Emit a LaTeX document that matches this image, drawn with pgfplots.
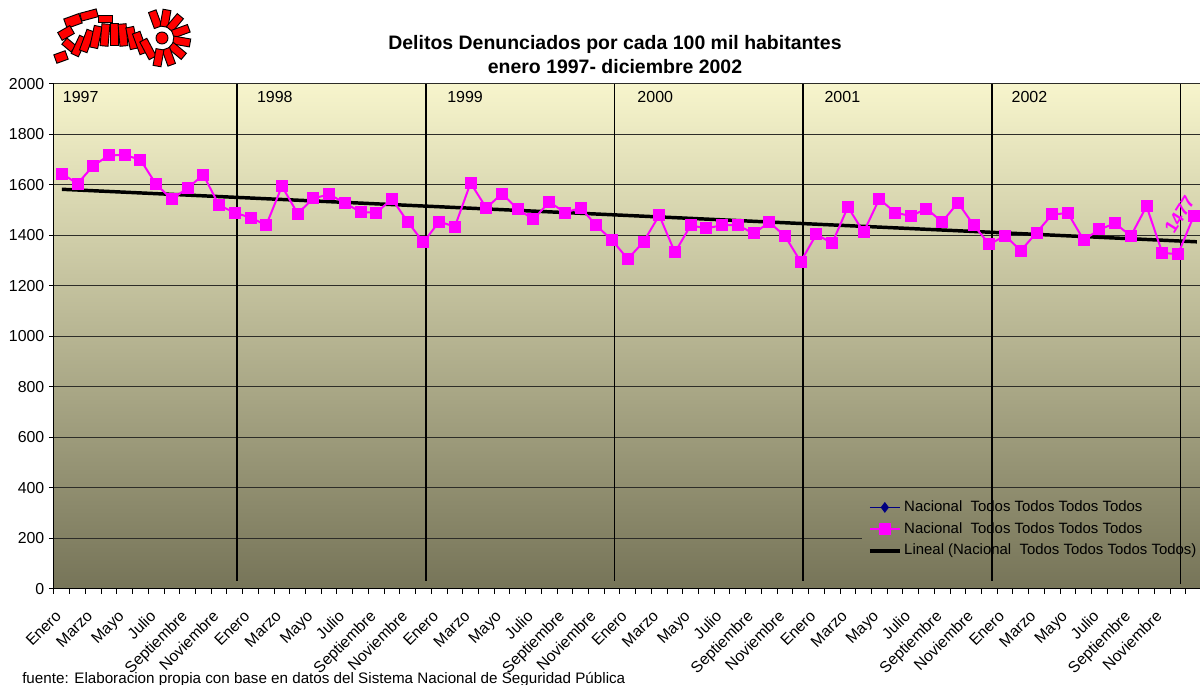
\documentclass[border=0pt]{standalone}
\usepackage{fontspec}
\setmainfont{Liberation Sans}
\usepackage{pgfplots}
\usepackage{pgfplotstable}
\pgfplotsset{compat=1.18}

\definecolor{mag}{HTML}{FF00FF}
\definecolor{navyser}{HTML}{000080}
\definecolor{bgtop}{RGB}{247,245,204}
\definecolor{bgmid}{RGB}{202,201,162}
\definecolor{bgbot}{RGB}{118,116,88}
\definecolor{gridc}{RGB}{45,45,40}

% month index (1 = enero 1997), delitos por 100 mil hab.
\pgfplotstableread{
m v
1 1645
2 1605
3 1677
4 1717
5 1719
6 1700
7 1602
8 1544
9 1588
10 1640
11 1520
12 1490
13 1471
14 1441
15 1595
16 1487
17 1547
18 1563
19 1529
20 1493
21 1490
22 1545
23 1454
24 1373
25 1455
26 1435
27 1608
28 1509
29 1566
30 1504
31 1464
32 1533
33 1491
34 1509
35 1440
36 1381
37 1307
38 1375
39 1480
40 1333
41 1440
42 1428
43 1441
44 1441
45 1408
46 1452
47 1398
48 1296
49 1405
50 1369
51 1513
52 1413
53 1545
54 1491
55 1477
56 1506
57 1454
58 1530
59 1441
60 1365
61 1399
62 1340
63 1411
64 1484
65 1488
66 1382
67 1424
68 1448
69 1398
70 1516
71 1331
72 1326
73 1477
}\nacional

\begin{document}
\begin{tikzpicture}
\useasboundingbox (-40.5pt,-72pt) rectangle (859.5pt,441.75pt);
\begin{axis}[
    at={(0,0)}, anchor=south west,
    scale only axis, width=859.5pt, height=378.75pt,
    xmin=0.5, xmax=73.4, ymin=0, ymax=2000,
    axis x line*=bottom, axis y line*=left,
    axis line style={black, line width=0.75pt},
    axis background/.style={shade, top color=bgtop, middle color=bgmid, bottom color=bgbot},
    ytick={0,200,...,2000},
    scaled y ticks=false,
    /pgf/number format/1000 sep={},
    /pgf/number format/assume math mode=true,
    xtick={1,3,...,71},
    xticklabels={Enero,Marzo,Mayo,Julio,Septiembre,Noviembre,
                 Enero,Marzo,Mayo,Julio,Septiembre,Noviembre,
                 Enero,Marzo,Mayo,Julio,Septiembre,Noviembre,
                 Enero,Marzo,Mayo,Julio,Septiembre,Noviembre,
                 Enero,Marzo,Mayo,Julio,Septiembre,Noviembre,
                 Enero,Marzo,Mayo,Julio,Septiembre,Noviembre},
    minor xtick={0.5,1.5,...,73.5},
    tick align=outside,
    major tick length=3.75pt, minor tick length=3.75pt,
    tick style={black, line width=0.75pt},
    major x tick style={draw=none},
    yticklabel style={font=\fontsize{11.9}{13}\selectfont},
    xticklabel style={font=\fontsize{11.8}{13}\selectfont, rotate=45,
                      anchor=north east, inner sep=0pt, yshift=-4pt, xshift=-12pt},
    clip=false,
    legend style={draw=none, fill=none, at={(axis cs:52.27,237)}, anchor=west,
                  inner sep=0pt, row sep=3.5pt,
                  font=\fontsize{11.2}{13}\selectfont,
                  nodes={inner xsep=2pt, inner ysep=1pt, text height=8.3pt, text depth=2.5pt}},
    legend cell align=left,
    legend image code/.code={\draw[mark repeat=2,mark phase=2,#1]
        plot coordinates {(0pt,0pt) (11.25pt,0pt) (22.5pt,0pt)};},
]

% ---- gridlines (the 200 line stops at the legend) ----
\draw[gridc, line width=0.75pt] (axis cs:0.5,200) -- (axis cs:51.9,200);
\draw[gridc, line width=0.75pt] (axis cs:0.5,400) -- (axis cs:73.4,400);
\draw[gridc, line width=0.75pt] (axis cs:0.5,600) -- (axis cs:73.4,600);
\draw[gridc, line width=0.75pt] (axis cs:0.5,800) -- (axis cs:73.4,800);
\draw[gridc, line width=0.75pt] (axis cs:0.5,1000) -- (axis cs:73.4,1000);
\draw[gridc, line width=0.75pt] (axis cs:0.5,1200) -- (axis cs:73.4,1200);
\draw[gridc, line width=0.75pt] (axis cs:0.5,1400) -- (axis cs:73.4,1400);
\draw[gridc, line width=0.75pt] (axis cs:0.5,1600) -- (axis cs:73.4,1600);
\draw[gridc, line width=0.75pt] (axis cs:0.5,1800) -- (axis cs:73.4,1800);
\draw[gridc, line width=0.75pt] (axis cs:0.5,2000) -- (axis cs:73.4,2000);

% ---- year separators ----
\draw[black, line width=1.2pt] (axis cs:12.15,2000) -- (axis cs:12.15,30);
\draw[black, line width=1.2pt] (axis cs:24.15,2000) -- (axis cs:24.15,30);
\draw[black, line width=1.2pt] (axis cs:36.15,2000) -- (axis cs:36.15,30);
\draw[black, line width=1.2pt] (axis cs:48.15,2000) -- (axis cs:48.15,30);
\draw[black, line width=1.2pt] (axis cs:60.15,2000) -- (axis cs:60.15,30);
\draw[black, line width=1.2pt] (axis cs:72.15,2000) -- (axis cs:72.15,20);

\node[anchor=west, inner sep=0pt, font=\fontsize{12}{14}\selectfont] at (axis cs:1.05,1948) {1997};
\node[anchor=west, inner sep=0pt, font=\fontsize{12}{14}\selectfont] at (axis cs:13.4,1948) {1998};
\node[anchor=west, inner sep=0pt, font=\fontsize{12}{14}\selectfont] at (axis cs:25.5,1948) {1999};
\node[anchor=west, inner sep=0pt, font=\fontsize{12}{14}\selectfont] at (axis cs:37.6,1948) {2000};
\node[anchor=west, inner sep=0pt, font=\fontsize{12}{14}\selectfont] at (axis cs:49.5,1948) {2001};
\node[anchor=west, inner sep=0pt, font=\fontsize{12}{14}\selectfont] at (axis cs:61.4,1948) {2002};

% ---- series ----
\addlegendimage{navyser, line width=1.1pt, mark=diamond*, mark size=3.2pt, mark options={solid}}
\addlegendentry{Nacional\ \ Todos Todos Todos Todos}

\addplot[black, line width=2.6pt, forget plot] coordinates {(1,1583) (73.2,1375)};

\addplot[mag, line width=1.5pt, mark=square*, mark size=3.75pt, mark options={solid, fill=mag}]
    table[x=m, y=v] {\nacional};
\addlegendentry{Nacional\ \ Todos Todos Todos Todos}

\addlegendimage{black, line width=2.6pt}
\addlegendentry{Lineal (Nacional\ \ Todos Todos Todos Todos)}

\node[mag, rotate=58, font=\bfseries\fontsize{13.5}{14}\selectfont, inner sep=0pt]
    at (axis cs:72.1,1483) {1477};
\end{axis}

% ---- title, source, logo (image pixel coordinates) ----
\begin{scope}[shift={(-40.5pt,441.75pt)}, x=0.75pt, y=-0.75pt]
\node[font=\bfseries\fontsize{14.6}{17}\selectfont, inner sep=0pt] at (615,44) {Delitos Denunciados por cada 100 mil habitantes};
\node[font=\bfseries\fontsize{14.6}{17}\selectfont, inner sep=0pt] at (615,67) {enero 1997- diciembre 2002};
\node[font=\fontsize{11.4}{13}\selectfont, anchor=base west, inner sep=0pt] at (22,684)
    {fuente: Elaboracion propia con base en datos del Sistema Nacional de Seguridad Pública};

\tikzset{lg/.style={draw=black, fill=red, line width=0.7pt, inner sep=0pt}}
% left pieces
\node[lg, minimum width=12pt, minimum height=7.5pt, rotate=20] at (73,21) {};
\node[lg, minimum width=12.75pt, minimum height=6pt, rotate=15] at (89,15) {};
\node[lg, minimum width=10.5pt, minimum height=5.25pt, rotate=0] at (105,19) {};
\node[lg, minimum width=10.5pt, minimum height=6.75pt, rotate=30] at (66,33) {};
\node[lg, minimum width=9pt, minimum height=6.75pt, rotate=20] at (61,57) {};
\node[lg, minimum width=9pt, minimum height=6pt, rotate=-40] at (69,45) {};
% band
\node[lg, minimum width=6pt, minimum height=15pt, rotate=-25] at (79,46) {};
\node[lg, minimum width=6pt, minimum height=16.5pt, rotate=-20] at (87,41) {};
\node[lg, minimum width=6pt, minimum height=16.5pt, rotate=-12] at (96,37) {};
\node[lg, minimum width=6pt, minimum height=16.5pt, rotate=-5] at (105,35) {};
\node[lg, minimum width=6pt, minimum height=16.5pt, rotate=0] at (114,34) {};
\node[lg, minimum width=6pt, minimum height=16.5pt, rotate=5] at (123,35) {};
\node[lg, minimum width=6pt, minimum height=16.5pt, rotate=12] at (132,38) {};
\node[lg, minimum width=6pt, minimum height=16.5pt, rotate=20] at (140,43) {};
\node[lg, minimum width=6pt, minimum height=15pt, rotate=28] at (148,49) {};
% right fan
\node[lg, minimum width=12.75pt, minimum height=6pt, rotate=110] at (155.2,19.2) {};
\node[lg, minimum width=12.75pt, minimum height=6pt, rotate=80] at (165.5,18.3) {};
\node[lg, minimum width=12.75pt, minimum height=6pt, rotate=50] at (174.9,22.7) {};
\node[lg, minimum width=12.75pt, minimum height=6pt, rotate=20] at (180.8,31.2) {};
\node[lg, minimum width=12.75pt, minimum height=6pt, rotate=-10] at (181.7,41.5) {};
\node[lg, minimum width=12.75pt, minimum height=6pt, rotate=-40] at (177.3,50.9) {};
\node[lg, minimum width=12.75pt, minimum height=6pt, rotate=-70] at (168.8,56.8) {};
\node[lg, minimum width=12.75pt, minimum height=6pt, rotate=-100] at (158.5,57.7) {};
\draw[black, fill=red, line width=0.7pt] (162,38) circle (4.5pt);
\end{scope}
\end{tikzpicture}
\end{document}
